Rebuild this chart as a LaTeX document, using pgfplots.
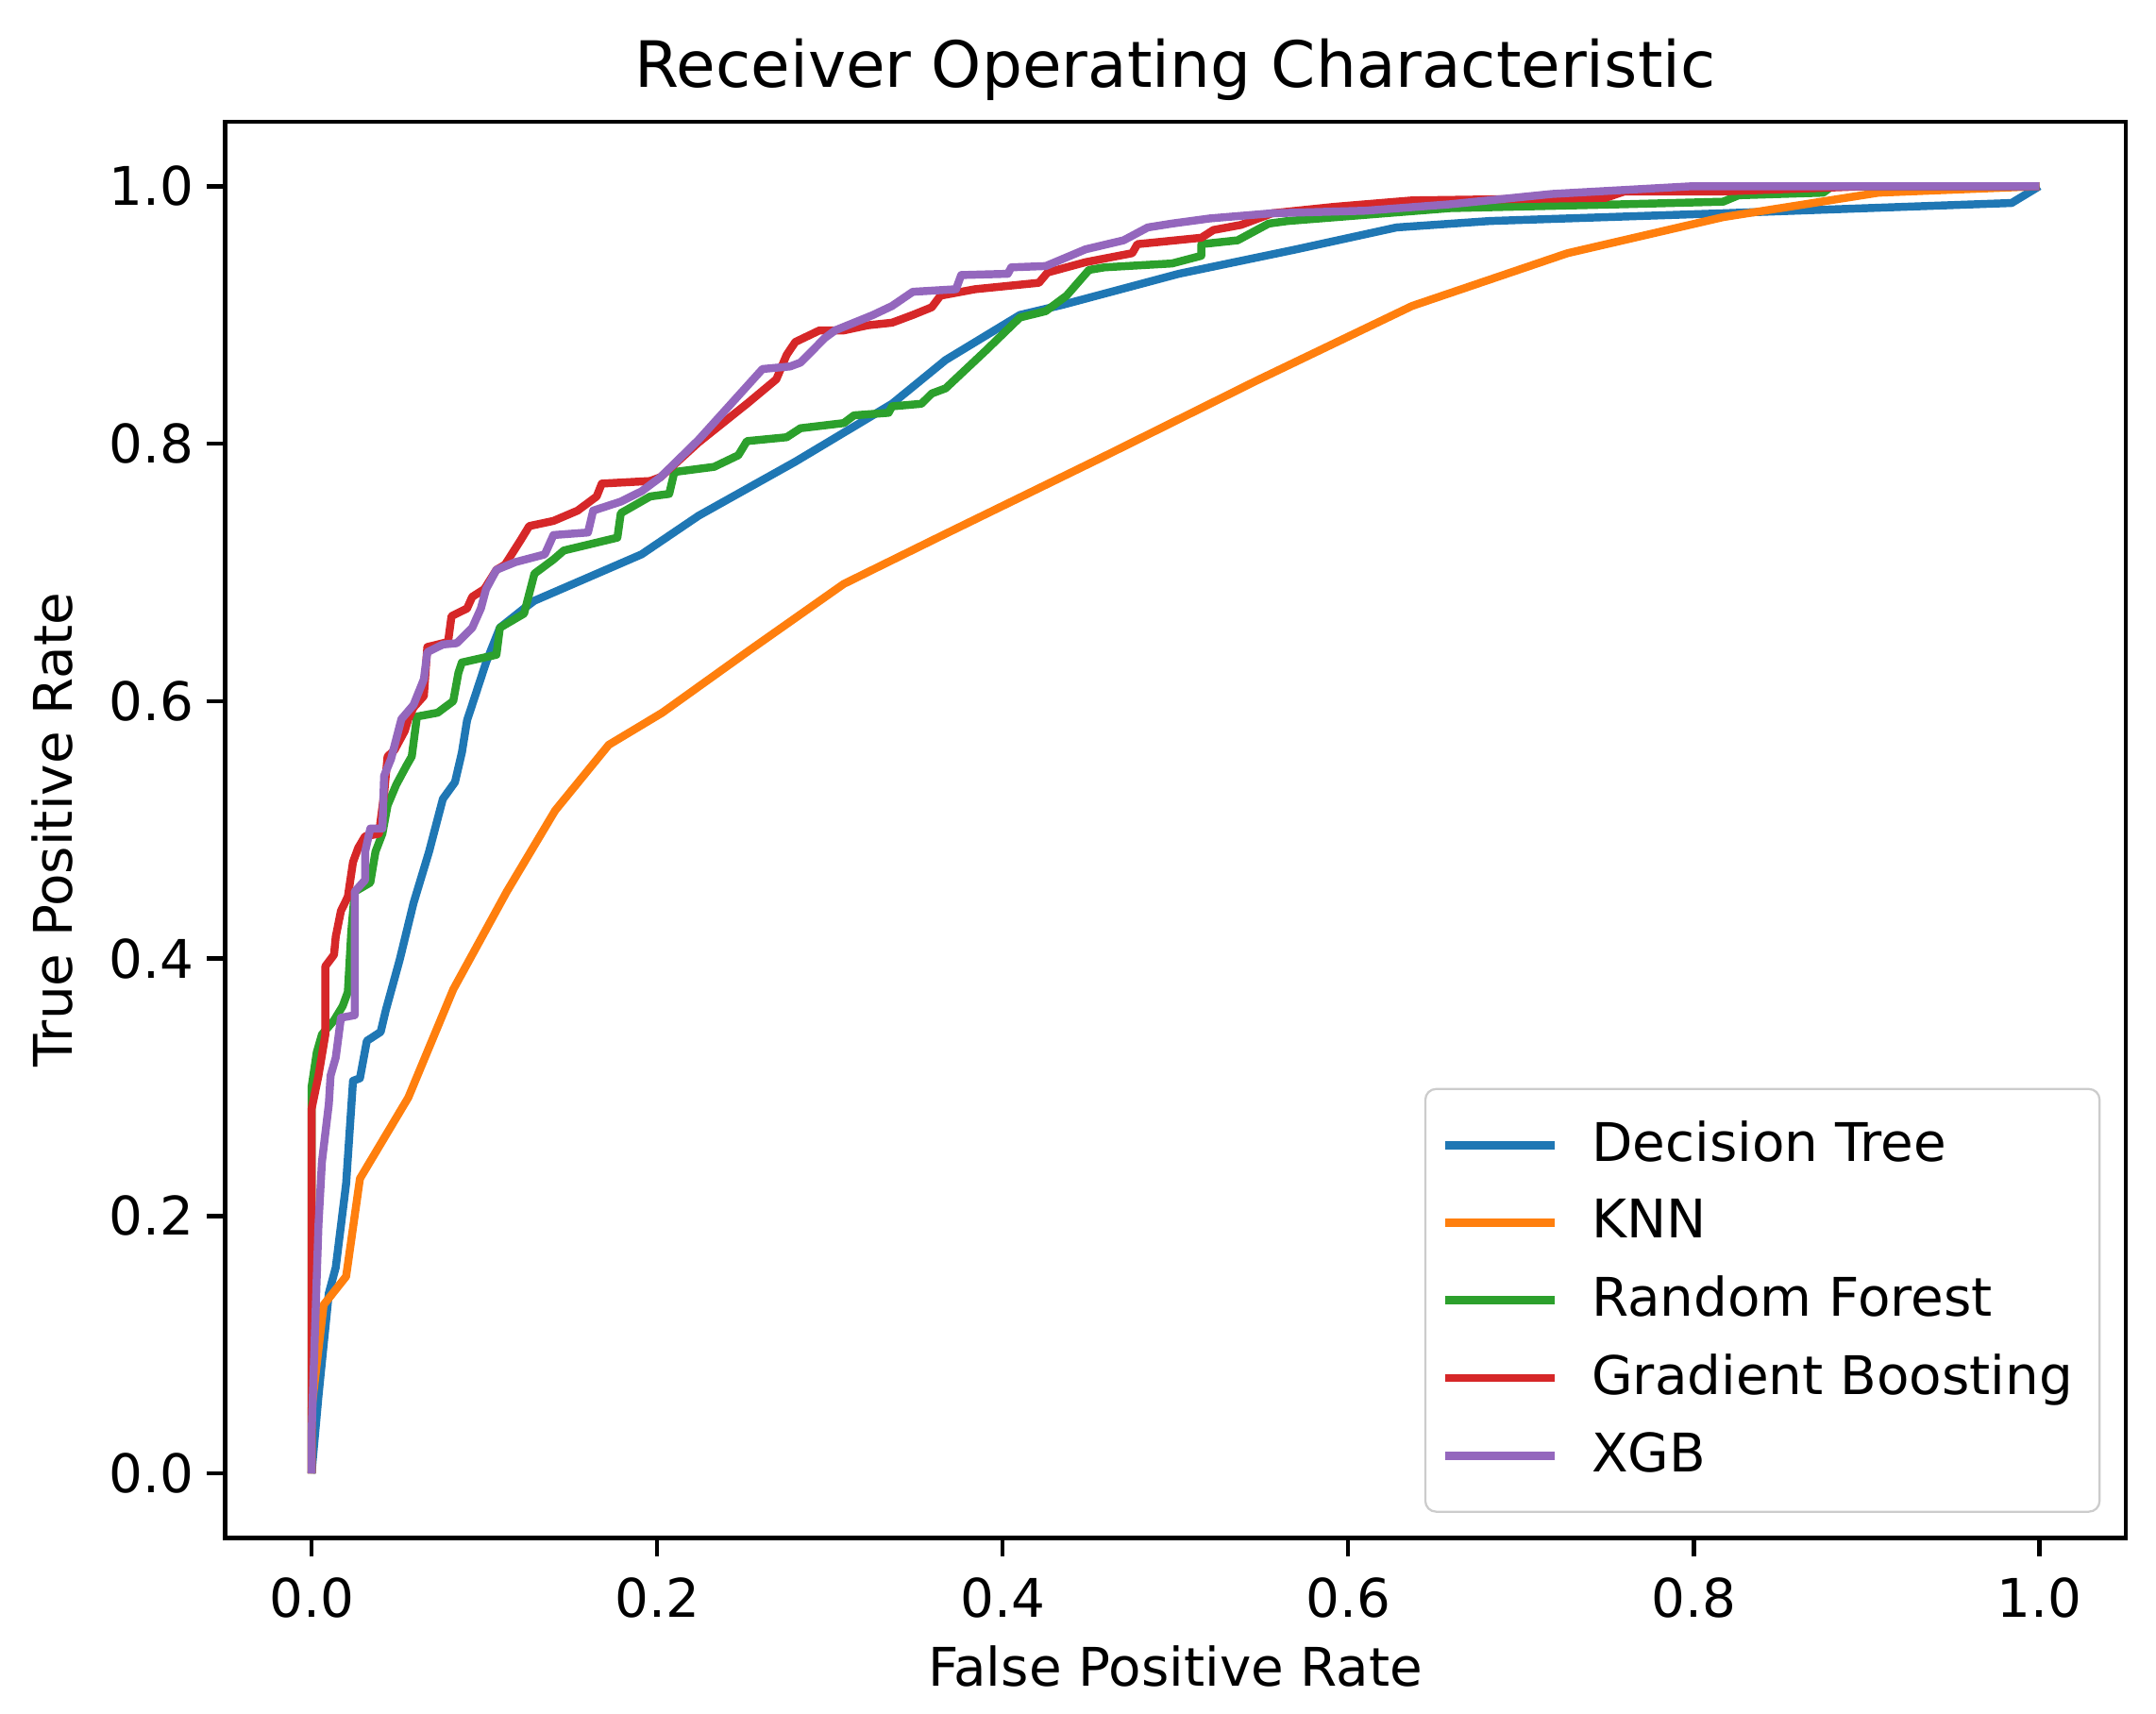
\documentclass[border=0pt]{standalone}
\usepackage{fontspec}
\setmainfont{DejaVu Sans}
\usepackage{pgfplots}
\pgfplotsset{compat=1.18}

\definecolor{C0}{HTML}{1F77B4}
\definecolor{C1}{HTML}{FF7F0E}
\definecolor{C2}{HTML}{2CA02C}
\definecolor{C3}{HTML}{D62728}
\definecolor{C4}{HTML}{9467BD}

\begin{document}
\begin{tikzpicture}
\begin{axis}[
    scale only axis,
    width=357pt, height=266pt,
    xmin=-0.05, xmax=1.05,
    ymin=-0.05, ymax=1.05,
    xtick={0,0.2,0.4,0.6,0.8,1.0},
    ytick={0,0.2,0.4,0.6,0.8,1.0},
    /pgf/number format/fixed,
    /pgf/number format/fixed zerofill,
    /pgf/number format/precision=1,
    /pgf/number format/assume math mode=true,
    tick align=outside,
    tick pos=left,
    major tick length=3.5pt,
    every tick/.style={black, line width=0.8pt},
    axis line style={line width=0.8pt},
    ticklabel style={font=\fontsize{10}{12}\selectfont},
    xticklabel style={yshift=-0.4pt},
    yticklabel style={xshift=1.2pt},
    title={Receiver Operating Characteristic},
    title style={font=\fontsize{12}{14}\selectfont, yshift=-5.5pt},
    xlabel={False Positive Rate},
    ylabel={True Positive Rate},
    label style={font=\fontsize{10}{12}\selectfont},
    xlabel style={yshift=1.5pt},
    legend cell align=left,
    legend style={at={(1,0)}, anchor=south east, xshift=-4.7pt, yshift=4.7pt,
        draw=black!20, rounded corners=2pt, inner xsep=3pt, inner ysep=4pt,
        font=\fontsize{10}{12}\selectfont, row sep=1.6pt},
    legend image code/.code={\draw[#1] (0pt,0pt) -- (20.5pt,0pt);
        \path[draw=none] (0pt,0pt) -- (25.5pt,0pt);},
    every axis plot/.append style={line width=1.5pt, line join=round},
]

\addplot[C0] coordinates {
(0,0) (0.004,0.06) (0.010,0.14) (0.014,0.16) (0.020,0.225) (0.024,0.305)
(0.028,0.307) (0.032,0.336) (0.040,0.343) (0.043,0.36) (0.051,0.399)
(0.059,0.443) (0.068,0.483) (0.076,0.524) (0.083,0.537) (0.087,0.56)
(0.090,0.585) (0.101,0.630) (0.109,0.657) (0.123,0.672) (0.129,0.678)
(0.191,0.714) (0.224,0.744) (0.280,0.786) (0.336,0.831) (0.367,0.865)
(0.410,0.900) (0.435,0.908) (0.502,0.932) (0.570,0.951) (0.628,0.968)
(0.682,0.973) (0.817,0.979) (0.984,0.987) (1,1)
};
\addlegendentry{Decision Tree}

\addplot[C1] coordinates {
(0,0) (0,0.05) (0.007,0.131) (0.020,0.153) (0.028,0.229) (0.056,0.292)
(0.082,0.376) (0.113,0.452) (0.141,0.515) (0.172,0.566) (0.203,0.591)
(0.254,0.640) (0.308,0.691) (0.367,0.730) (0.457,0.789) (0.547,0.849)
(0.637,0.907) (0.727,0.948) (0.817,0.976) (0.907,0.995) (1,1)
};
\addlegendentry{KNN}

\addplot[C2] coordinates {
(0,0) (0,0.30) (0.003,0.327) (0.006,0.341) (0.013,0.352) (0.018,0.363)
(0.021,0.374) (0.023,0.421) (0.025,0.452) (0.034,0.459) (0.037,0.483)
(0.041,0.497) (0.044,0.519) (0.049,0.535) (0.055,0.550) (0.058,0.557)
(0.061,0.588) (0.073,0.591) (0.082,0.600) (0.085,0.622) (0.087,0.630)
(0.107,0.636) (0.109,0.657) (0.123,0.668) (0.129,0.699) (0.140,0.710)
(0.146,0.717) (0.177,0.727) (0.179,0.746) (0.196,0.759) (0.207,0.761)
(0.210,0.778) (0.233,0.782) (0.247,0.791) (0.252,0.802) (0.275,0.805)
(0.283,0.812) (0.308,0.816) (0.314,0.822) (0.334,0.824) (0.336,0.829)
(0.353,0.831) (0.359,0.839) (0.367,0.843) (0.390,0.872) (0.410,0.898)
(0.425,0.903) (0.437,0.915) (0.450,0.935) (0.459,0.937) (0.498,0.940)
(0.515,0.946) (0.515,0.955) (0.536,0.958) (0.554,0.971) (0.565,0.973)
(0.659,0.983) (0.759,0.986) (0.817,0.988) (0.826,0.993) (0.875,0.995)
(0.880,1.0) (1,1)
};
\addlegendentry{Random Forest}

\addplot[C3] coordinates {
(0,0) (0,0.283) (0.004,0.309) (0.008,0.341) (0.008,0.394) (0.013,0.403)
(0.014,0.417) (0.017,0.437) (0.021,0.448) (0.024,0.475) (0.027,0.486)
(0.031,0.495) (0.039,0.497) (0.042,0.528) (0.044,0.557) (0.048,0.562)
(0.054,0.577) (0.056,0.586) (0.059,0.595) (0.065,0.604) (0.067,0.642)
(0.079,0.646) (0.081,0.666) (0.090,0.672) (0.093,0.681) (0.100,0.687)
(0.107,0.702) (0.112,0.706) (0.121,0.725) (0.126,0.736) (0.140,0.740)
(0.154,0.748) (0.165,0.759) (0.168,0.769) (0.196,0.771) (0.202,0.774)
(0.224,0.801) (0.252,0.831) (0.269,0.850) (0.275,0.869) (0.280,0.879)
(0.294,0.888) (0.308,0.888) (0.322,0.892) (0.336,0.894) (0.348,0.900)
(0.359,0.906) (0.364,0.915) (0.384,0.920) (0.421,0.925) (0.426,0.933)
(0.448,0.941) (0.475,0.948) (0.478,0.955) (0.515,0.960) (0.522,0.966)
(0.538,0.970) (0.556,0.979) (0.592,0.984) (0.637,0.989) (0.749,0.991)
(0.760,0.996) (0.817,0.996) (0.900,1.0) (1,1)
};
\addlegendentry{Gradient Boosting}

\addplot[C4] coordinates {
(0,0) (0,0.03) (0.004,0.193) (0.006,0.242) (0.010,0.287) (0.011,0.309)
(0.014,0.323) (0.017,0.354) (0.025,0.356) (0.025,0.452) (0.031,0.461)
(0.031,0.483) (0.034,0.501) (0.041,0.501) (0.042,0.542) (0.046,0.555)
(0.052,0.586) (0.059,0.597) (0.065,0.617) (0.067,0.638) (0.076,0.644)
(0.084,0.645) (0.093,0.657) (0.098,0.672) (0.101,0.687) (0.107,0.702)
(0.118,0.708) (0.135,0.714) (0.140,0.729) (0.160,0.731) (0.163,0.748)
(0.179,0.755) (0.191,0.763) (0.202,0.774) (0.224,0.803) (0.261,0.858)
(0.277,0.860) (0.283,0.863) (0.297,0.882) (0.303,0.888) (0.325,0.900)
(0.336,0.907) (0.348,0.918) (0.373,0.920) (0.376,0.931) (0.403,0.932)
(0.405,0.937) (0.425,0.938) (0.448,0.951) (0.470,0.958) (0.484,0.968)
(0.498,0.971) (0.520,0.975) (0.556,0.979) (0.610,0.981) (0.659,0.986)
(0.718,0.994) (0.799,1.0) (1,1)
};
\addlegendentry{XGB}

\end{axis}
\pgfresetboundingbox
\path ([shift={(-42.3pt,-33pt)}]current axis.south west)
    rectangle ([shift={(5.7pt,22.9pt)}]current axis.north east);
\end{tikzpicture}
\end{document}
